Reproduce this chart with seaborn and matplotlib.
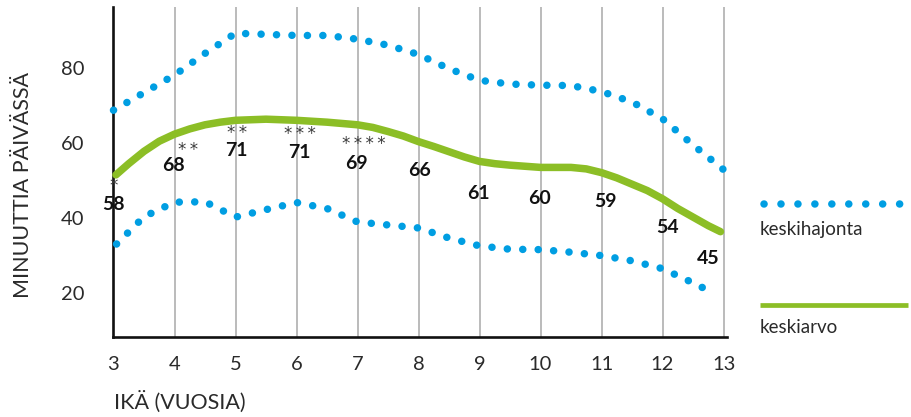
import numpy as np
import pandas as pd
import matplotlib
matplotlib.use("Agg")
import matplotlib.pyplot as plt
import seaborn as sns
from matplotlib.lines import Line2D

# ---------------- data ----------------
sd_ages = [3.0, 3.5, 4.0, 4.5, 5.0, 5.5, 6.0, 6.5, 7.0, 7.5, 8.0,
           8.5, 9.0, 9.5, 10.0, 10.5, 11.0, 11.5, 12.0, 12.5, 13.0]
upper_sd = [68.8, 73.5, 78.2, 84.0, 89.4, 89.1, 88.8, 88.8, 87.8, 86.2, 83.7,
            79.9, 76.8, 75.8, 75.5, 75.4, 73.8, 71.0, 66.5, 59.5, 52.9]

lower_ages = [3.05, 3.5, 4.0, 4.5, 5.0, 5.5, 6.0, 6.5, 7.0, 7.5, 8.0,
              8.5, 9.0, 9.5, 10.0, 10.5, 11.0, 11.5, 12.0, 12.5, 12.87]
lower_sd = [33.0, 40.3, 44.2, 44.3, 40.2, 42.2, 44.1, 42.5, 38.9, 38.1, 37.3,
            34.6, 32.5, 31.6, 31.5, 30.8, 29.9, 28.5, 26.4, 22.6, 19.6]

mean_ages = [3.04, 3.25, 3.5, 3.75, 4.0, 4.25, 4.5, 4.75, 5.0, 5.5, 6.0, 6.5,
             7.0, 7.25, 7.5, 7.75, 8.0, 8.25, 8.5, 8.75, 9.0, 9.25, 9.5, 10.0,
             10.5, 10.75, 11.0, 11.25, 11.5, 11.75, 12.0, 12.25, 12.5, 12.75, 12.95]
mean_line = [51.5, 54.5, 57.8, 60.5, 62.4, 63.8, 64.9, 65.6, 66.1, 66.4, 66.1, 65.6,
             64.9, 64.2, 63.1, 61.9, 60.4, 59.1, 57.7, 56.3, 55.1, 54.5, 54.1, 53.5,
             53.5, 53.1, 52.1, 50.7, 49.0, 47.3, 45.1, 42.5, 40.2, 37.9, 36.3]

# labelled mean values per age and significance stars
mean_labels = [58, 68, 71, 71, 69, 66, 61, 60, 59, 54, 45]
stars = ["*", "**", "**", "***", "****"]

# label placement (positions only)
label_x = [3.0, 3.99, 5.02, 6.05, 6.98, 8.01, 8.98, 9.99, 11.07, 12.08, 12.74]
label_y = [43.5, 54.0, 58.0, 57.5, 54.6, 52.6, 46.6, 45.2, 44.5, 37.5, 29.0]
star_x = [3.01, 4.23, 5.02, 6.05, 7.11]
star_y = [49.6, 59.2, 63.8, 63.4, 60.8]

x_ticks = list(range(3, 14))
y_ticks = [20, 40, 60, 80]
y_title = "MINUUTTIA PÄIVÄSSÄ"
x_title = "IKÄ (VUOSIA)"
legend_sd = "keskihajonta"
legend_mean = "keskiarvo"

BLUE = "#009EE2"
GREEN = "#8CBE26"
TXT = "#2a2a2a"

# ---------------- style ----------------
sns.set_style("white")
plt.rcParams["font.family"] = ["Lato", "DejaVu Sans"]

W, H = 912, 417
fig = plt.figure(figsize=(W / 100, H / 100), dpi=100)
left, right, top, bottom = 113.5, 726.6, 6.7, 336.7
ax = fig.add_axes([left / W, 1 - bottom / H, (right - left) / W, (bottom - top) / H])

df_up = pd.DataFrame({"age": sd_ages, "value": upper_sd})
df_lo = pd.DataFrame({"age": lower_ages, "value": lower_sd})
df_mean = pd.DataFrame({"age": mean_ages, "value": mean_line})

dot_lw = 5.4
dot_style = (0, (0.01, 2.05))
for d in (df_up, df_lo):
    sns.lineplot(data=d, x="age", y="value", ax=ax, color=BLUE, linewidth=dot_lw,
                 linestyle=dot_style, dash_capstyle="round", clip_on=False, zorder=3)
sns.lineplot(data=df_mean, x="age", y="value", ax=ax, color=GREEN, linewidth=5.4,
             solid_capstyle="round", solid_joinstyle="round", clip_on=False, zorder=4)

# value labels
for xv, yv, m in zip(label_x, label_y, mean_labels):
    ax.text(xv, yv, str(m), ha="center", va="center", fontsize=14,
            fontweight="bold", color="#111111", zorder=5)
for xv, yv, s in zip(star_x, star_y, stars):
    ax.annotate("\u2009".join(s), (xv, yv), xytext=(0, -6.5), textcoords="offset points",
                ha="center", va="baseline", fontsize=12, color="#3a3a3a",
                family=["DejaVu Sans"], zorder=6)

ax.set_xlim(3, 13.05)
ax.set_ylim(8.2, 96.5)
ax.set_xticks(x_ticks)
ax.set_yticks(y_ticks)
ax.set_xticklabels([str(t) for t in x_ticks])
ax.set_yticklabels([str(t) for t in y_ticks])
ax.tick_params(axis="both", length=0, labelsize=14.5, labelcolor=TXT)
ax.tick_params(axis="x", pad=14)
ax.tick_params(axis="y", pad=21)
ax.grid(axis="x", color="#b5b5b5", linewidth=1.3)
ax.grid(axis="y", visible=False)
ax.set_xlabel("")
ax.set_ylabel("")
for sp in ("top", "right"):
    ax.spines[sp].set_visible(False)
for sp in ("left", "bottom"):
    ax.spines[sp].set_color("#111111")
    ax.spines[sp].set_linewidth(1.9)

# axis titles
fig.text(23 / W, 1 - 185 / H, y_title, rotation=90, ha="center", va="center",
         fontsize=15.5, color=TXT)
fig.text(114 / W, 1 - 402 / H, x_title, ha="left", va="center",
         fontsize=15.5, color=TXT)

# legend
fig.add_artist(Line2D([764 / W, 925 / W], [1 - 204 / H] * 2, transform=fig.transFigure,
                      color=BLUE, linewidth=dot_lw, linestyle=(0, (0.01, 2.25)),
                      dash_capstyle="round"))
fig.text(760 / W, 1 - 229 / H, legend_sd, ha="left", va="center", fontsize=13.5,
         color=TXT)
fig.add_artist(Line2D([760 / W, 908 / W], [1 - 305 / H] * 2, transform=fig.transFigure,
                      color=GREEN, linewidth=3.4, solid_capstyle="butt"))
fig.text(760 / W, 1 - 327.7 / H, legend_mean, ha="left", va="center", fontsize=13.5,
         color=TXT)

fig.savefig("out.png", dpi=100)
